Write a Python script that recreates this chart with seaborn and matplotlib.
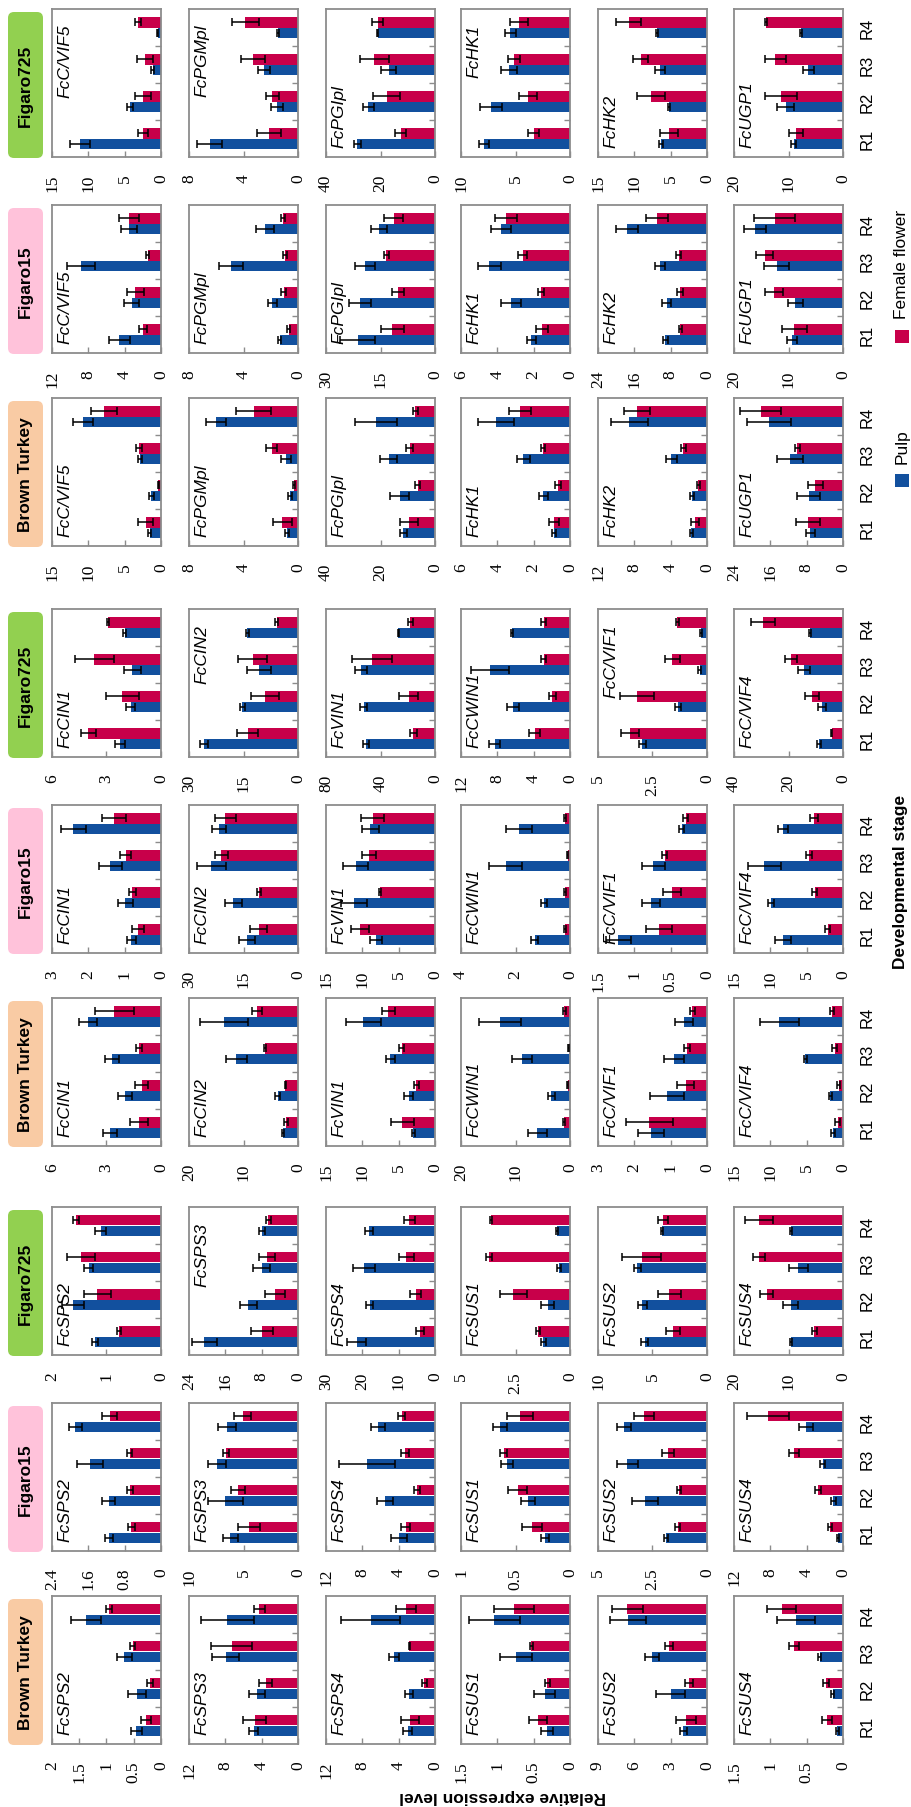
import matplotlib
matplotlib.use("Agg")
import matplotlib.pyplot as plt
from matplotlib.patches import FancyBboxPatch, Rectangle
import pandas as pd
import seaborn as sns

# ---------------------------------------------------------------- data
STAGES = ["R1", "R2", "R3", "R4"]
CULTIVARS = ["Figaro725", "Figaro15", "Brown Turkey"]

GENES_TOP = ["FcC/VIF5", "FcPGMpl", "FcPGIpl", "FcHK1", "FcHK2", "FcUGP1"]
GENES_MID = ["FcCIN1", "FcCIN2", "FcVIN1", "FcCWIN1", "FcC/VIF1", "FcC/VIF4"]
GENES_LOW = ["FcSPS2", "FcSPS3", "FcSPS4", "FcSUS1", "FcSUS2", "FcSUS4"]

# value-axis ticks of each panel (last tick = axis maximum)
TICKS_TOP = {
    "Figaro725": [[0, 5, 10, 15], [0, 4, 8], [0, 20, 40], [0, 5, 10], [0, 5, 10, 15], [0, 10, 20]],
    "Figaro15": [[0, 4, 8, 12], [0, 4, 8], [0, 15, 30], [0, 2, 4, 6], [0, 8, 16, 24], [0, 10, 20]],
    "Brown Turkey": [[0, 5, 10, 15], [0, 4, 8], [0, 20, 40], [0, 2, 4, 6], [0, 4, 8, 12], [0, 8, 16, 24]],
}
TICKS_MID = {
    "Figaro725": [[0, 3, 6], [0, 15, 30], [0, 40, 80], [0, 4, 8, 12], [0, 2.5, 5], [0, 20, 40]],
    "Figaro15": [[0, 1, 2, 3], [0, 15, 30], [0, 5, 10, 15], [0, 2, 4], [0, 0.5, 1, 1.5], [0, 5, 10, 15]],
    "Brown Turkey": [[0, 3, 6], [0, 10, 20], [0, 5, 10, 15], [0, 10, 20], [0, 1, 2, 3], [0, 5, 10, 15]],
}
TICKS_LOW = {
    "Figaro725": [[0, 1, 2], [0, 8, 16, 24], [0, 10, 20, 30], [0, 2.5, 5], [0, 5, 10], [0, 10, 20]],
    "Figaro15": [[0, 0.8, 1.6, 2.4], [0, 5, 10], [0, 4, 8, 12], [0, 0.5, 1], [0, 2.5, 5], [0, 4, 8, 12]],
    "Brown Turkey": [[0, 0.5, 1, 1.5, 2], [0, 4, 8, 12], [0, 4, 8, 12], [0, 0.5, 1, 1.5], [0, 3, 6, 9], [0, 0.5, 1, 1.5]],
}

# gene: [pulp mean, pulp sd, female flower mean, female flower sd], stages R1..R4
top_f725 = {
    "FcC/VIF5": [[11.15, 4.32, 1.11, 0.46], [1.4, 0.4, 0.2, 0.1], [2.46, 2.46, 2.18, 3.16], [0.7, 1.1, 1.1, 0.4]],
    "FcPGMpl": [[6.48, 1.54, 2.5, 1.47], [0.92, 0.43, 0.43, 0.08], [2.13, 1.88, 3.3, 3.87], [0.9, 0.5, 0.9, 0.98]],
    "FcPGIpl": [[28.5, 24.5, 17.0, 21.1], [1.4, 2.0, 2.7, 0.3], [12.5, 17.7, 22.3, 21.1], [2.0, 5.0, 5.3, 2.0]],
    "FcHK1": [[7.87, 7.24, 5.6, 5.46], [0.45, 1.0, 0.7, 0.5], [3.33, 3.87, 5.17, 4.67], [0.5, 0.8, 0.55, 0.8]],
    "FcHK2": [[6.29, 5.24, 6.43, 6.9], [0.3, 0.1, 0.67, 0.1], [5.24, 7.7, 9.14, 10.8], [1.2, 1.9, 1.0, 1.74]],
    "FcUGP1": [[9.0, 10.5, 6.4, 7.7], [0.45, 1.6, 1.0, 0.2], [8.6, 11.4, 12.4, 14.1], [1.35, 3.0, 2.0, 0.2]],
}
top_f15 = {
    "FcC/VIF5": [[4.57, 3.23, 8.8, 3.53], [1.2, 0.84, 1.5, 0.9], [1.97, 2.82, 1.45, 3.53], [0.46, 0.93, 0.15, 1.1]],
    "FcPGMpl": [[1.35, 1.88, 4.9, 2.4], [0.12, 0.33, 0.88, 0.65], [0.68, 1.05, 0.98, 1.1], [0.12, 0.2, 0.15, 0.17]],
    "FcPGIpl": [[21.3, 20.7, 19.3, 15.3], [4.8, 3.1, 2.7, 2.2], [11.8, 10.3, 13.4, 11.4], [3.2, 1.65, 0.75, 2.7]],
    "FcHK1": [[2.13, 3.24, 4.44, 3.81], [0.24, 0.55, 0.65, 0.55], [1.52, 1.58, 2.61, 3.52], [0.33, 0.16, 0.24, 0.6]],
    "FcHK2": [[9.14, 8.9, 10.3, 17.7], [0.6, 0.95, 1.07, 2.4], [5.87, 5.94, 6.25, 11.0], [0.4, 0.76, 0.5, 2.5]],
    "FcUGP1": [[9.4, 8.75, 12.2, 16.1], [0.9, 1.4, 2.3, 2.0], [8.9, 12.7, 14.4, 12.5], [2.3, 1.7, 1.56, 3.75]],
}
top_bt = {
    "FcC/VIF5": [[1.58, 1.35, 2.9, 10.7], [0.27, 0.36, 0.23, 1.4], [2.1, 0.36, 3.0, 7.9], [1.0, 0.1, 0.45, 1.8]],
    "FcPGMpl": [[0.8, 0.58, 0.87, 6.0], [0.12, 0.17, 0.36, 0.75], [1.16, 0.29, 1.93, 3.25], [0.7, 0.05, 0.42, 1.27]],
    "FcPGIpl": [[11.6, 12.9, 17.0, 21.7], [1.4, 3.5, 3.15, 7.6], [9.7, 6.3, 9.3, 7.2], [3.3, 0.95, 1.26, 0.95]],
    "FcHK1": [[0.87, 1.47, 2.57, 4.06], [0.1, 0.24, 0.35, 1.0], [0.87, 0.66, 1.47, 2.75], [0.28, 0.16, 0.1, 0.6]],
    "FcHK2": [[1.71, 1.64, 3.92, 8.57], [0.2, 0.2, 0.63, 2.05], [1.33, 0.95, 2.6, 7.7], [0.42, 0.2, 0.3, 1.4]],
    "FcUGP1": [[7.2, 7.57, 11.7, 16.3], [1.0, 2.5, 2.8, 4.8], [7.7, 6.06, 10.1, 18.1], [2.65, 1.7, 0.57, 4.5]],
}

mid_f725 = {
    "FcCIN1": [[2.27, 1.66, 1.57, 2.0], [0.28, 0.25, 0.47, 0.1], [4.0, 2.12, 3.67, 2.93], [0.4, 0.93, 1.08, 0.05]],
    "FcCIN2": [[26.0, 15.3, 10.8, 13.9], [1.1, 0.7, 3.3, 0.3], [13.8, 9.1, 12.5, 5.9], [2.9, 3.9, 4.0, 0.3]],
    "FcVIN1": [[50.5, 52.3, 54.3, 26.8], [2.3, 2.5, 4.4, 0.5], [16.0, 19.3, 46.3, 18.0], [2.5, 6.9, 14.6, 2.0]],
    "FcCWIN1": [[8.3, 6.26, 8.8, 6.4], [0.64, 0.7, 2.1, 0.1], [3.9, 1.95, 2.9, 2.9], [0.62, 0.38, 0.26, 0.26]],
    "FcC/VIF1": [[2.96, 1.33, 0.34, 0.27], [0.18, 0.16, 0.05, 0.04], [3.53, 3.2, 1.6, 1.36], [0.42, 0.78, 0.34, 0.08]],
    "FcC/VIF4": [[8.9, 7.7, 14.2, 12.1], [0.8, 1.3, 2.2, 0.3], [4.1, 11.4, 19.2, 29.3], [0.2, 2.5, 2.2, 4.3]],
}
mid_f15 = {
    "FcCIN1": [[0.82, 0.98, 1.39, 2.41], [0.12, 0.2, 0.31, 0.34], [0.64, 0.79, 0.97, 1.3], [0.16, 0.09, 0.15, 0.33]],
    "FcCIN2": [[14.1, 17.8, 23.9, 21.75], [2.25, 2.3, 4.0, 2.0], [10.8, 10.8, 21.1, 20.0], [2.4, 0.56, 1.8, 2.9]],
    "FcVIN1": [[8.1, 11.2, 10.9, 8.9], [0.8, 1.8, 1.7, 1.15], [10.3, 7.6, 9.1, 8.6], [1.2, 0.1, 1.0, 1.64]],
    "FcCWIN1": [[1.3, 0.96, 2.36, 1.88], [0.12, 0.11, 0.61, 0.47], [0.19, 0.19, 0.09, 0.19], [0.04, 0.03, 0.02, 0.04]],
    "FcC/VIF1": [[1.22, 0.77, 0.74, 0.35], [0.17, 0.12, 0.16, 0.04], [0.66, 0.48, 0.58, 0.29], [0.18, 0.12, 0.035, 0.035]],
    "FcC/VIF4": [[8.25, 9.9, 10.85, 8.25], [1.04, 0.47, 2.26, 0.7], [2.1, 3.9, 4.7, 4.0], [0.35, 0.3, 0.38, 0.6]],
}
mid_bt = {
    "FcCIN1": [[2.81, 2.0, 2.69, 4.03], [0.4, 0.38, 0.4, 0.48], [1.2, 1.07, 1.22, 2.56], [0.51, 0.36, 0.18, 1.07]],
    "FcCIN2": [[2.8, 3.74, 11.3, 13.6], [0.15, 0.47, 1.87, 4.4], [2.18, 2.37, 6.1, 7.5], [0.4, 0.1, 0.15, 0.93]],
    "FcVIN1": [[3.0, 3.6, 6.18, 9.9], [0.23, 0.63, 0.63, 2.4], [4.5, 2.55, 4.55, 6.4], [1.55, 0.35, 0.35, 0.93]],
    "FcCWIN1": [[6.0, 3.4, 8.86, 12.9], [1.7, 0.6, 1.85, 3.85], [1.05, 0.43, 0.25, 1.05], [0.2, 0.15, 0.05, 0.25]],
    "FcC/VIF1": [[1.54, 1.11, 0.91, 0.63], [0.36, 0.47, 0.27, 0.25], [1.59, 0.59, 0.55, 0.41], [0.65, 0.23, 0.09, 0.07]],
    "FcC/VIF4": [[1.38, 1.75, 5.2, 8.74], [0.23, 0.23, 0.23, 2.7], [0.74, 0.6, 1.15, 1.52], [0.35, 0.23, 0.35, 0.3]],
}

low_f725 = {
    "FcSPS2": [[1.21, 1.62, 1.33, 1.11], [0.06, 0.2, 0.09, 0.11], [0.77, 1.17, 1.47, 1.56], [0.03, 0.25, 0.26, 0.06]],
    "FcSPS3": [[20.6, 10.9, 8.0, 8.0], [2.7, 1.8, 1.9, 0.66], [7.95, 5.0, 6.86, 6.5], [2.5, 2.2, 1.75, 0.6]],
    "FcSPS4": [[21.5, 18.0, 19.5, 18.2], [2.6, 0.9, 3.0, 1.1], [4.1, 5.3, 7.9, 7.1], [1.2, 1.5, 2.1, 1.5]],
    "FcSUS1": [[1.23, 1.03, 0.51, 0.6], [0.12, 0.28, 0.08, 0.04], [1.45, 2.6, 3.73, 3.62], [0.09, 0.62, 0.13, 0.03]],
    "FcSUS2": [[5.73, 5.93, 6.38, 4.15], [0.34, 0.42, 0.3, 0.1], [3.12, 3.47, 6.0, 4.07], [0.6, 1.04, 1.8, 0.45]],
    "FcSUS4": [[9.5, 9.6, 8.2, 9.6], [0.2, 1.4, 1.8, 0.2], [5.24, 14.0, 15.4, 15.4], [0.45, 1.2, 1.1, 2.5]],
}
low_f15 = {
    "FcSPS2": [[1.15, 1.15, 1.56, 1.89], [0.09, 0.14, 0.29, 0.14], [0.65, 0.68, 0.69, 1.13], [0.085, 0.06, 0.055, 0.16]],
    "FcSPS3": [[6.2, 6.66, 7.45, 6.53], [0.71, 1.6, 0.84, 0.84], [4.53, 5.47, 6.6, 5.08], [1.0, 0.65, 0.25, 0.8]],
    "FcSPS4": [[3.96, 5.5, 7.5, 6.3], [0.92, 0.9, 3.1, 0.8], [3.23, 2.0, 3.3, 3.67], [0.46, 0.33, 0.46, 0.4]],
    "FcSUS1": [[0.23, 0.385, 0.58, 0.64], [0.036, 0.06, 0.055, 0.065], [0.35, 0.48, 0.61, 0.46], [0.093, 0.09, 0.033, 0.12]],
    "FcSUS2": [[1.88, 2.84, 3.65, 3.8], [0.11, 0.6, 0.48, 0.32], [1.35, 1.29, 1.78, 2.89], [0.13, 0.1, 0.27, 0.46]],
    "FcSUS4": [[0.55, 1.05, 2.25, 4.07], [0.1, 0.27, 0.27, 0.76], [1.45, 2.73, 5.35, 8.25], [0.24, 0.35, 0.55, 2.36]],
}
low_bt = {
    "FcSPS2": [[0.45, 0.44, 0.67, 1.38], [0.1, 0.17, 0.14, 0.28], [0.28, 0.2, 0.52, 0.95], [0.09, 0.06, 0.04, 0.06]],
    "FcSPS3": [[4.88, 4.52, 7.95, 7.77], [0.47, 0.87, 1.5, 2.9], [4.77, 3.54, 7.3, 4.27], [1.26, 0.72, 2.26, 0.6]],
    "FcSPS4": [[3.02, 2.84, 4.47, 7.1], [0.45, 0.45, 0.56, 3.2], [2.73, 1.2, 2.84, 3.2], [1.0, 0.27, 0.05, 1.1]],
    "FcSUS1": [[0.32, 0.35, 0.74, 1.04], [0.08, 0.15, 0.22, 0.35], [0.44, 0.31, 0.53, 0.77], [0.12, 0.04, 0.02, 0.27]],
    "FcSUS2": [[1.95, 2.98, 4.53, 6.5], [0.3, 1.2, 0.56, 1.5], [1.71, 1.49, 3.12, 6.59], [0.81, 0.35, 0.33, 1.29]],
    "FcSUS4": [[0.08, 0.14, 0.32, 0.65], [0.02, 0.02, 0.02, 0.26], [0.22, 0.23, 0.67, 0.84], [0.07, 0.04, 0.07, 0.2]],
}

# gene names printed near the top of the panel in the Figaro725 rows
TOP_LABELS = {"FcC/VIF5", "FcPGMpl", "FcHK1", "FcCIN2", "FcC/VIF1", "FcSPS3"}

# ---------------------------------------------------------------- style
BLUE = "#12509e"
RED = "#c8004a"
FRAME = "#8c8c8c"
HEADER_COLORS = {"Figaro725": "#92d050", "Figaro15": "#ffc2da", "Brown Turkey": "#f9cba4"}
SANS = "Liberation Sans"
SERIF = "Liberation Serif"

W, H = 911, 1808
COL_X = [52, 189, 326, 461, 598, 734]
PANEL_W = 109
ROW_Y = [10, 206, 399]
BLOCK_Y = [0, 600, 1198]
PANEL_H = 148

plt.rcParams["font.family"] = [SANS, "DejaVu Sans"]
fig = plt.figure(figsize=(W / 100, H / 100), dpi=100)

overlay = fig.add_axes([0, 0, 1, 1])
overlay.set_xlim(0, W)
overlay.set_ylim(H, 0)
overlay.axis("off")


def fmt(v):
    return f"{v:g}"


def draw_panel(ax, gene, vals, ticks, show_stages, label_top):
    pulp, pulp_sd, flower, flower_sd = vals
    order = STAGES[::-1]
    df = pd.DataFrame({
        "stage": STAGES * 2,
        "tissue": ["Pulp"] * 4 + ["Female flower"] * 4,
        "level": list(pulp) + list(flower),
    })
    sns.barplot(data=df, x="level", y="stage", hue="tissue", order=order,
                hue_order=["Female flower", "Pulp"], palette=[RED, BLUE],
                orient="h", width=0.56, errorbar=None, legend=False,
                saturation=1, linewidth=0, ax=ax)
    sd = {("Pulp", s): e for s, e in zip(STAGES, pulp_sd)}
    sd.update({("Female flower", s): e for s, e in zip(STAGES, flower_sd)})
    for p in list(ax.patches):
        yc = p.get_y() + p.get_height() / 2
        idx = int(round(yc))
        tissue = "Female flower" if yc < idx else "Pulp"
        ax.errorbar(p.get_width(), yc, xerr=sd[(tissue, order[idx])], fmt="none",
                    ecolor="black", elinewidth=1.1, capsize=2.6, capthick=1.1, zorder=5)

    ax.set_xlim(ticks[-1], 0)
    ax.set_ylim(3.5, -0.5)
    ax.set_xlabel("")
    ax.set_ylabel("")
    ax.set_xticks(ticks, labels=[fmt(t) for t in ticks], rotation=90,
                  fontfamily=SERIF, fontsize=12.5)
    ax.tick_params(axis="x", direction="in", length=4, width=1, color=FRAME, pad=12)
    ax.yaxis.tick_right()
    ax.set_yticks(range(4), labels=order if show_stages else [""] * 4,
                  rotation=90, va="center", fontsize=12)
    ax.set_yticks([0.5, 1.5, 2.5], minor=True)
    ax.tick_params(axis="y", which="major", length=0, pad=12)
    ax.tick_params(axis="y", which="minor", direction="in", length=4, width=1,
                   color=FRAME, left=False, right=True)
    for s in ax.spines.values():
        s.set_color(FRAME)
        s.set_linewidth(1.3)
    if label_top:
        ax.text(0.115, 0.9, gene, transform=ax.transAxes, rotation=90, ha="center",
                va="top", fontsize=12.5, fontstyle="italic")
    else:
        ax.text(0.115, 0.07, gene, transform=ax.transAxes, rotation=90, ha="center",
                va="bottom", fontsize=12.5, fontstyle="italic")


blocks = [
    (GENES_TOP, TICKS_TOP, [top_f725, top_f15, top_bt]),
    (GENES_MID, TICKS_MID, [mid_f725, mid_f15, mid_bt]),
    (GENES_LOW, TICKS_LOW, [low_f725, low_f15, low_bt]),
]

for b, (genes, ticks_by_cv, tables) in enumerate(blocks):
    for r, (cv, table) in enumerate(zip(CULTIVARS, tables)):
        top = BLOCK_Y[b] + ROW_Y[r]
        # cultivar header
        rad = 6
        overlay.add_patch(FancyBboxPatch((8 + rad, top + 3 + rad), 35 - 2 * rad, 146 - 2 * rad,
                                         boxstyle=f"round,pad={rad}", facecolor=HEADER_COLORS[cv],
                                         edgecolor="none"))
        overlay.text(25.5, top + 76, cv, rotation=90, ha="center", va="center",
                     fontsize=12.5, fontweight="bold")
        for c, gene in enumerate(genes):
            ax = fig.add_axes([COL_X[c] / W, 1 - (top + PANEL_H) / H, PANEL_W / W, PANEL_H / H])
            draw_panel(ax, gene, table[gene], ticks_by_cv[cv][c], c == 5,
                       cv == "Figaro725" and gene in TOP_LABELS)

# legend
overlay.add_patch(Rectangle((895, 331), 14, 13, facecolor=RED, edgecolor="none"))
overlay.text(902, 264, "Female flower", rotation=90, ha="center", va="center", fontsize=12.5)
overlay.add_patch(Rectangle((895, 475), 14, 13, facecolor=BLUE, edgecolor="none"))
overlay.text(902, 447, "Pulp", rotation=90, ha="center", va="center", fontsize=12.5)

# axis titles
overlay.text(900, 882, "Developmental stage", rotation=90, ha="center", va="center",
             fontsize=12.5, fontweight="bold")
overlay.text(503, 1797, "Relative expression level", rotation=180, ha="center", va="center",
             fontsize=12.5, fontweight="bold")

fig.savefig("out.png", dpi=100)
